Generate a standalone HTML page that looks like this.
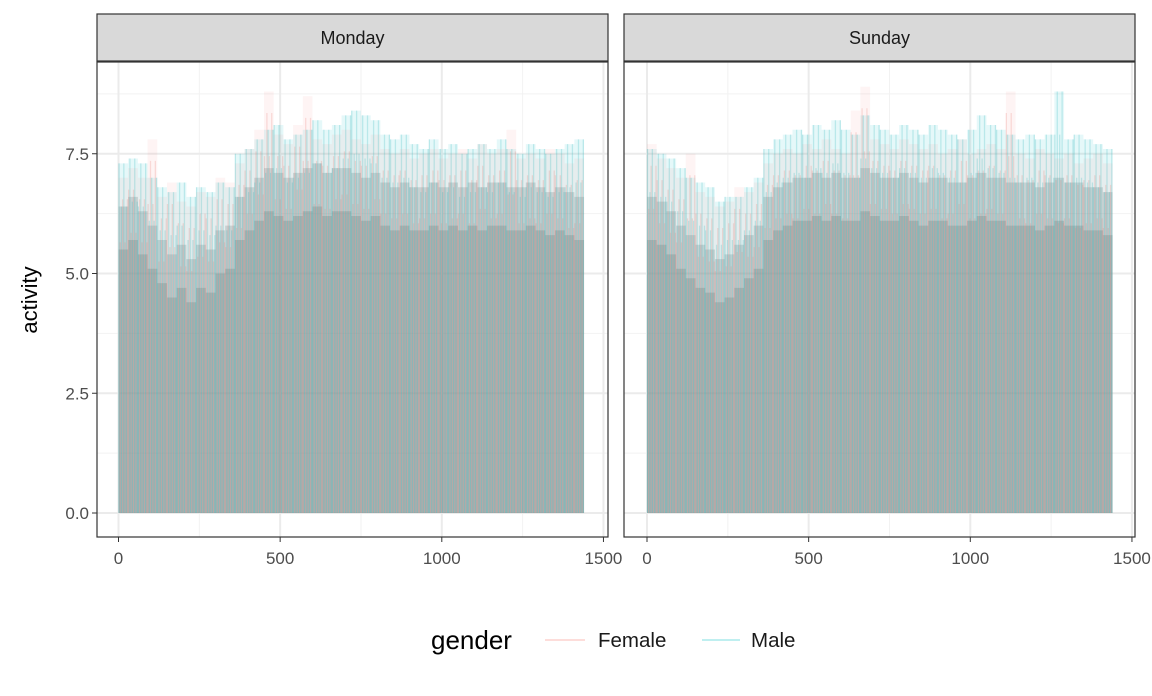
<!DOCTYPE html>
<html><head><meta charset="utf-8">
<style>
body{margin:0;background:#fff;font-family:"Liberation Sans",sans-serif;}
svg text{font-family:"Liberation Sans",sans-serif;}
</style></head>
<body>
<svg id="chart" width="1152" height="691" xmlns="http://www.w3.org/2000/svg">
<rect width="1152" height="691" fill="#fff"/>
<g id="plot"></g>
<text x="37" y="300" font-size="22" fill="#000" text-anchor="middle" transform="rotate(-90 37 300)">activity</text>
<g>
<text x="431" y="649" font-size="26" fill="#000">gender</text>
<line x1="545" y1="640" x2="585" y2="640" stroke="#F8766D" stroke-opacity="0.25" stroke-width="2"/>
<text x="598" y="647" font-size="20.5" fill="#1a1a1a">Female</text>
<line x1="702" y1="640" x2="740" y2="640" stroke="#00BFC4" stroke-opacity="0.25" stroke-width="2"/>
<text x="751" y="647" font-size="20.5" fill="#1a1a1a">Male</text>
</g>
</svg>
<script>
const xTicks=[0,500,1000,1500];
const yTicks=[0,2.5,5,7.5];
const yTickLabels=["0.0","2.5","5.0","7.5"];
const panelNames=["Monday","Sunday"];
const monMale=[7.3,7.4,7.3,7.0,6.8,6.7,6.9,6.6,6.8,6.7,6.9,6.8,7.5,7.6,7.8,8.0,8.1,7.8,7.9,8.0,8.2,8.0,8.1,8.3,8.4,8.3,8.2,7.9,7.8,7.9,7.7,7.6,7.8,7.6,7.7,7.5,7.6,7.7,7.6,7.8,7.6,7.5,7.7,7.6,7.5,7.6,7.7,7.8];
const monFemale=[7.0,7.2,7.0,7.8,6.6,6.9,6.5,6.4,6.7,6.6,7.0,6.9,7.3,7.6,8.0,8.8,7.9,7.7,8.1,8.7,7.8,7.7,7.9,8.0,7.8,7.7,7.9,7.6,7.5,7.6,7.4,7.5,7.6,7.4,7.5,7.6,7.4,7.7,7.5,7.6,8.0,7.4,7.5,7.4,7.6,7.5,7.3,7.4];
const monCore=[6.4,6.6,6.3,6.0,5.7,5.4,5.6,5.3,5.6,5.5,5.9,6.0,6.6,6.8,7.0,7.2,7.1,7.0,7.1,7.2,7.3,7.1,7.2,7.2,7.1,7.0,7.1,6.9,6.8,6.9,6.8,6.8,6.9,6.8,6.9,6.8,6.9,6.8,6.9,6.9,6.8,6.8,6.9,6.8,6.7,6.8,6.7,6.6];
const sunMale=[7.6,7.5,7.4,7.2,7.0,6.9,6.8,6.5,6.6,6.6,6.8,7.0,7.6,7.8,7.9,8.0,7.9,8.1,8.0,8.2,8.0,7.9,8.3,8.1,8.0,7.9,8.1,8.0,7.9,8.1,8.0,7.9,7.8,8.0,8.3,8.1,8.0,7.9,7.8,7.9,7.8,7.9,8.8,7.8,7.9,7.8,7.7,7.6];
const sunFemale=[7.7,7.4,7.2,7.0,7.5,6.7,6.6,6.4,6.5,6.8,6.7,6.9,7.3,7.5,7.6,7.5,7.7,7.6,7.8,7.6,7.5,8.4,8.9,7.8,7.7,7.6,7.8,7.7,7.6,7.7,7.5,7.6,7.8,7.5,7.6,7.7,7.6,8.8,7.5,7.4,7.6,7.5,7.4,7.5,7.3,7.4,7.5,7.3];
const sunCore=[6.6,6.5,6.3,6.0,5.8,5.6,5.5,5.3,5.4,5.6,5.8,6.0,6.6,6.8,6.9,7.0,7.0,7.1,7.0,7.1,7.0,7.0,7.2,7.1,7.0,7.0,7.1,7.0,6.9,7.0,7.0,6.9,6.9,7.0,7.1,7.0,7.0,6.9,6.9,6.9,6.8,6.9,7.0,6.9,6.9,6.8,6.8,6.7];
const binMinutes=30;
const NS="http://www.w3.org/2000/svg";
const plot=document.getElementById('plot');
function mk(tag,attrs,parent){const e=document.createElementNS(NS,tag);for(const k in attrs)e.setAttribute(k,attrs[k]);(parent||plot).appendChild(e);return e;}
const panels=[{x:97,w:511,x0:118.5,male:monMale,female:monFemale,core:monCore},{x:624,w:511,x0:647,male:sunMale,female:sunFemale,core:sunCore}];
const pTop=62,pBot=537;
const yS=v=>513-v*47.9;
const kx=0.3233;
panels.forEach((p,pi)=>{
  const xS=m=>p.x0+m*kx;
  const g=mk('g',{});
  
  
  mk('rect',{x:p.x,y:pTop,width:p.w,height:pBot-pTop,fill:'#fff'},g);
  for(let i=0;i<3;i++){const m=250+i*500;mk('line',{x1:xS(m),x2:xS(m),y1:pTop,y2:pBot,stroke:'#f2f2f2','stroke-width':1},g);}
  for(let v=1.25;v<9;v+=2.5){mk('line',{x1:p.x,x2:p.x+p.w,y1:yS(v),y2:yS(v),stroke:'#f2f2f2','stroke-width':1},g);}
  xTicks.forEach(t=>mk('line',{x1:xS(t),x2:xS(t),y1:pTop,y2:pBot,stroke:'#ebebeb','stroke-width':2},g));
  yTicks.forEach(t=>mk('line',{x1:p.x,x2:p.x+p.w,y1:yS(t),y2:yS(t),stroke:'#ebebeb','stroke-width':2},g));
  const n=p.male.length;
  function area(arr,off,fill,op,name){
    let d='M'+xS(0)+','+yS(0);
    arr.forEach((v,i)=>{d+=' L'+xS(i*binMinutes)+','+yS(v-off)+' L'+xS((i+1)*binMinutes)+','+yS(v-off);});
    d+=' L'+xS(n*binMinutes)+','+yS(0)+' Z';
    const a=mk('path',{d:d,fill:fill,'fill-opacity':op},g);
    
    
  }
  area(p.male,0,'#00BFC4',0.10,'male-envelope');
  area(p.female,0,'#F8766D',0.08,'female-envelope');
  area(p.core,0,'#8a9e9f',0.35,'activity-core-outer');
  area(p.core,0.9,'#86999a',0.45,'activity-core-inner');
  for(let i=0;i<n;i++){
    for(let k=0;k<8;k++){
      const m=i*binMinutes+k*3.75+1.5;
      const isMale=(k+i)%2===0;
      const top=(isMale?p.male[i]:p.female[i])-0.45*((k*7+i)%4);
      const s=mk('line',{x1:xS(m),x2:xS(m),y1:yS(0),y2:yS(top),stroke:isMale?'#1fb3b8':'#e8776e','stroke-opacity':0.22,'stroke-width':1.3},g);
      
      
    }
  }
  mk('rect',{x:p.x,y:pTop,width:p.w,height:pBot-pTop,fill:'none',stroke:'#333','stroke-width':1.2},g);
  const st=mk('rect',{x:p.x,y:14,width:p.w,height:47,fill:'#d9d9d9',stroke:'#333','stroke-width':1.2},g);
  
  
  const tt=mk('text',{x:p.x+p.w/2,y:44,'font-size':18,'text-anchor':'middle',fill:'#1a1a1a'},g);
  tt.textContent=panelNames[pi];
  
  
  xTicks.forEach(t=>{
    mk('line',{x1:xS(t),x2:xS(t),y1:pBot,y2:pBot+5,stroke:'#333','stroke-width':1},g);
    const l=mk('text',{x:xS(t),y:564,'font-size':17,'text-anchor':'middle',fill:'#4d4d4d'},g);
    l.textContent=t;
    
    
  });
  if(pi===0){
    yTicks.forEach((t,i)=>{
      mk('line',{x1:p.x-5,x2:p.x,y1:yS(t),y2:yS(t),stroke:'#333','stroke-width':1},g);
      const l=mk('text',{x:p.x-8,y:yS(t)+6,'font-size':17,'text-anchor':'end',fill:'#4d4d4d'},g);
      l.textContent=yTickLabels[i];
      
      
    });
  }
});
</script>
</body></html>
